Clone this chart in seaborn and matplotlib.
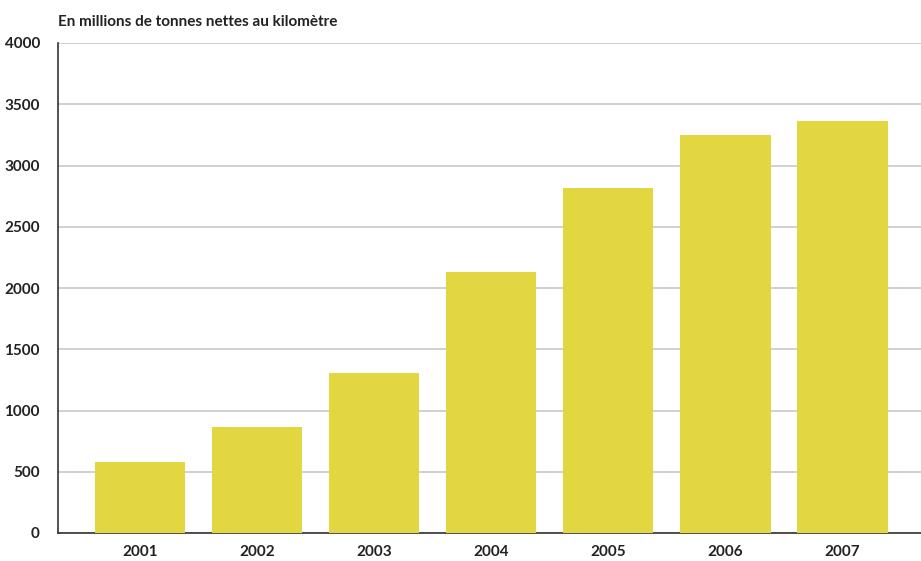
import numpy as np
import pandas as pd
import matplotlib
matplotlib.use("Agg")
import matplotlib.pyplot as plt
import seaborn as sns

# Données
annees = ["2001", "2002", "2003", "2004", "2005", "2006", "2007"]
valeurs = [582, 866, 1306, 2131, 2816, 3250, 3364]
graduations = [0, 500, 1000, 1500, 2000, 2500, 3000, 3500, 4000]

df = pd.DataFrame({"Annee": annees, "Valeur": valeurs})

sns.set_style("white")
plt.rcParams['font.family'] = ['Lato', 'DejaVu Sans']

fig = plt.figure(figsize=(9.21, 5.61), dpi=100)
ax = fig.add_axes([58 / 921, 28 / 561, 1 - 58 / 921, 490 / 561])

sns.barplot(data=df, x="Annee", y="Valeur", color="#e2d740", saturation=1,
            width=0.77, linewidth=0, ax=ax, zorder=3)

ax.set_ylim(0, 4000)
ax.set_xlim(-0.70, 6.67)
ax.set_yticks(graduations)
ax.yaxis.grid(True, color="#c8c8c8", linewidth=1.2, zorder=0)
ax.set_axisbelow(True)

for s in ["top", "right"]:
    ax.spines[s].set_visible(False)
ax.spines["left"].set_color("#333333")
ax.spines["bottom"].set_color("#333333")
ax.spines["left"].set_linewidth(1.2)
ax.spines["bottom"].set_linewidth(1.2)

ax.tick_params(axis="both", length=0, labelsize=11, colors="#222222")
for lab in ax.get_xticklabels() + ax.get_yticklabels():
    lab.set_fontweight("bold")
ax.tick_params(axis="x", pad=9)
ax.tick_params(axis="y", pad=13)
ax.set_xlabel("")
ax.set_ylabel("")

fig.text(58 / 921, 1 - 22 / 561, "En millions de tonnes nettes au kilomètre",
         fontsize=11, fontweight="bold", color="#222222", va="center", ha="left")

fig.savefig("out.png", dpi=100)
